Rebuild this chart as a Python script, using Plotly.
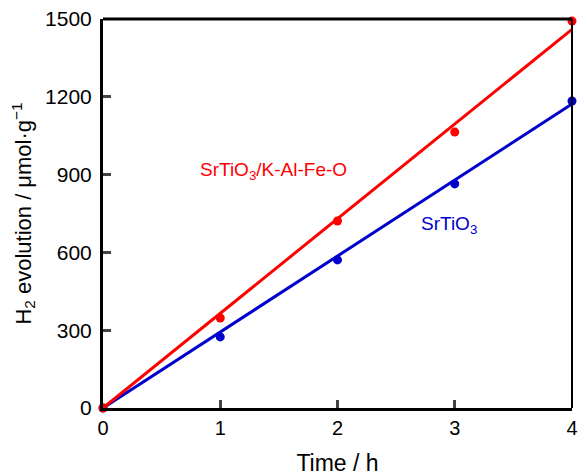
import plotly.graph_objects as go

time_h = [0, 1, 2, 3, 4]
h2_composite = [0, 347, 721, 1064, 1492]
h2_srtio3 = [0, 274, 571, 864, 1184]
fit_x = [0, 4]
fit_composite = [0, 1460]
fit_srtio3 = [0, 1172]

RED = "#ff0000"
BLUE = "#0000cc"
FONT = "Liberation Sans, Arial, sans-serif"

fig = go.Figure()
fig.add_trace(go.Scatter(x=fit_x, y=fit_srtio3, mode="lines", line=dict(color=BLUE, width=3), cliponaxis=False, showlegend=False))
fig.add_trace(go.Scatter(x=fit_x, y=fit_composite, mode="lines", line=dict(color=RED, width=3), cliponaxis=False, showlegend=False))
fig.add_trace(go.Scatter(x=time_h, y=h2_srtio3, mode="markers", marker=dict(color=BLUE, size=9), cliponaxis=False, showlegend=False))
fig.add_trace(go.Scatter(x=time_h, y=h2_composite, mode="markers", marker=dict(color=RED, size=9), cliponaxis=False, showlegend=False))

fig.update_layout(
    width=578, height=476,
    margin=dict(l=103, r=6, t=19, b=68, autoexpand=False),
    paper_bgcolor="white", plot_bgcolor="white",
    font=dict(family=FONT, color="black", size=20),
    xaxis=dict(range=[0, 4], tickvals=[0, 1, 2, 3, 4], ticks="inside", ticklen=8, tickwidth=2.5,
               showline=True, linewidth=3, linecolor="black", showgrid=False, zeroline=False,
               automargin=False, ticklabeloverflow="allow",
               tickfont=dict(size=20), title=dict(text="Time / h", font=dict(size=23), standoff=18)),
    yaxis=dict(range=[0, 1500], tickvals=[0, 300, 600, 900, 1200, 1500], ticks="inside", ticklen=8, tickwidth=2.5,
               showline=True, linewidth=3, linecolor="black", showgrid=False, zeroline=False,
               automargin=False, ticklabeloverflow="allow",
               tickfont=dict(size=21), ticklabelstandoff=4,
               title=dict(text="H<sub>2</sub> evolution / μmol·g<sup>−1</sup>", font=dict(size=22), standoff=8)),
    shapes=[
        dict(type="line", xref="paper", yref="paper", x0=0, x1=1, y0=1, y1=1, line=dict(color="black", width=3)),
        dict(type="line", xref="paper", yref="paper", x0=1, x1=1, y0=0, y1=1, line=dict(color="black", width=2)),
    ],
    annotations=[
        dict(x=1.45, y=912, xref="x", yref="y", text="SrTiO<sub>3</sub>/K-Al-Fe-O", showarrow=False,
             font=dict(size=19, color=RED)),
        dict(x=2.95, y=706, xref="x", yref="y", text="SrTiO<sub>3</sub>", showarrow=False,
             font=dict(size=19, color=BLUE)),
    ],
)

fig.write_html("out.html")
